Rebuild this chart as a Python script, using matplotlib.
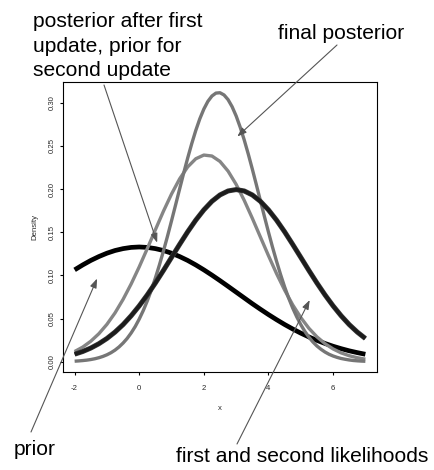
import matplotlib
matplotlib.use("Agg")
import matplotlib.pyplot as plt
import numpy as np

plt.rcParams["font.family"] = ["Liberation Sans", "DejaVu Sans"]

x_vals = np.arange(-2, 7.01, 0.25)
prior = [0.1065, 0.1122, 0.1174, 0.1219, 0.1258, 0.1289, 0.1311, 0.1325, 0.1330,
         0.1325, 0.1311, 0.1289, 0.1258, 0.1219, 0.1174, 0.1122, 0.1065, 0.1004,
         0.0940, 0.0874, 0.0807, 0.0740, 0.0673, 0.0609, 0.0547, 0.0488, 0.0432,
         0.0380, 0.0332, 0.0288, 0.0248, 0.0212, 0.0180, 0.0152, 0.0127, 0.0106,
         0.0087]
likelihood_1 = [0.0088, 0.0119, 0.0159, 0.0209, 0.0270, 0.0344, 0.0431, 0.0533, 0.0648,
                0.0775, 0.0913, 0.1059, 0.1210, 0.1360, 0.1506, 0.1641, 0.1760, 0.1859,
                0.1933, 0.1979, 0.1995, 0.1979, 0.1933, 0.1859, 0.1760, 0.1641, 0.1506,
                0.1360, 0.1210, 0.1059, 0.0913, 0.0775, 0.0648, 0.0533, 0.0431, 0.0344,
                0.0270]
likelihood_2 = [0.0088, 0.0119, 0.0159, 0.0209, 0.0270, 0.0344, 0.0431, 0.0533, 0.0648,
                0.0775, 0.0913, 0.1059, 0.1210, 0.1360, 0.1506, 0.1641, 0.1760, 0.1859,
                0.1933, 0.1979, 0.1995, 0.1979, 0.1933, 0.1859, 0.1760, 0.1641, 0.1506,
                0.1360, 0.1210, 0.1059, 0.0913, 0.0775, 0.0648, 0.0533, 0.0431, 0.0344,
                0.0270]
posterior_1 = [0.0119, 0.0170, 0.0238, 0.0325, 0.0434, 0.0566, 0.0723, 0.0902, 0.1100,
               0.1312, 0.1530, 0.1745, 0.1944, 0.2119, 0.2258, 0.2352, 0.2395, 0.2384,
               0.2321, 0.2209, 0.2055, 0.1870, 0.1663, 0.1446, 0.1230, 0.1022, 0.0831,
               0.0660, 0.0513, 0.0389, 0.0289, 0.0210, 0.0149, 0.0103, 0.0070, 0.0047,
               0.0030]
# the final posterior is narrow, so it is read every 0.125
x_fine = np.arange(-2, 7.001, 0.125)
posterior_final = [0.0007, 0.0010, 0.0014, 0.0019, 0.0026, 0.0035, 0.0047, 0.0062, 0.0081,
                   0.0105, 0.0135, 0.0172, 0.0217, 0.0270, 0.0334, 0.0408, 0.0495, 0.0594,
                   0.0706, 0.0832, 0.0971, 0.1122, 0.1284, 0.1455, 0.1634, 0.1817, 0.2002,
                   0.2185, 0.2361, 0.2527, 0.2680, 0.2815, 0.2928, 0.3017, 0.3079, 0.3113,
                   0.3117, 0.3091, 0.3037, 0.2955, 0.2848, 0.2718, 0.2570, 0.2407, 0.2233,
                   0.2052, 0.1867, 0.1683, 0.1503, 0.1329, 0.1165, 0.1011, 0.0868, 0.0739,
                   0.0623, 0.0521, 0.0431, 0.0353, 0.0286, 0.0230, 0.0183, 0.0145, 0.0113,
                   0.0087, 0.0067, 0.0051, 0.0038, 0.0029, 0.0021, 0.0015, 0.0011, 0.0008,
                   0.0006]
x_ticks = [-2, 0, 2, 4, 6]
y_ticks = [0.00, 0.05, 0.10, 0.15, 0.20, 0.25, 0.30]

W, H = 434, 470
fig = plt.figure(figsize=(W / 100, H / 100), dpi=100)
ax = fig.add_axes([63 / W, (H - 372) / H, 314 / W, 290 / H])

ax.plot(x_vals, prior, color="black", lw=3.4, solid_capstyle="butt")
ax.plot(x_vals, posterior_1, color="#858585", lw=2.4, solid_capstyle="butt")
ax.plot(x_fine, posterior_final, color="#767676", lw=2.4, solid_capstyle="butt")
ax.plot(x_vals, likelihood_1, color="#3a3a3a", lw=3.6, solid_capstyle="butt")
ax.plot(x_vals, likelihood_2, color="#1c1c1c", lw=2.6, solid_capstyle="butt")

ax.margins(x=0.04, y=0.04)
ax.set_xticks(x_ticks)
ax.set_xticklabels([str(t) for t in x_ticks])
ax.set_yticks(y_ticks)
ax.set_yticklabels(["%.2f" % t for t in y_ticks], rotation=90, va="center")
ax.tick_params(axis="both", direction="out", length=2.4, width=0.8,
               labelsize=5.6, labelcolor="#2a2a2a")
ax.tick_params(axis="x", pad=7)
ax.tick_params(axis="y", pad=3)
for sp in ax.spines.values():
    sp.set_linewidth(0.8)

ax.set_xlabel("x", fontsize=5.6, color="#2a2a2a", va="center")
ax.xaxis.set_label_coords(0.5, (372 - 408) / 290)
ax.set_ylabel("Density", fontsize=5.6, color="#2a2a2a", va="center")
ax.yaxis.set_label_coords((35 - 63) / 314, 0.5)

# annotations: tails in figure pixels, heads on the curves
arrow = dict(arrowstyle="-|>,head_length=0.55,head_width=0.2", color="#555555",
             lw=0.8, mutation_scale=10, shrinkA=0, shrinkB=0)
notes = [((0.555, 0.138), (104, H - 85)),
         ((3.036, 0.261), (337, H - 45)),
         ((-1.305, 0.0964), (31, H - 432)),
         ((5.277, 0.0715), (237, H - 444))]
for head, tail in notes:
    ax.annotate("", xy=head, xycoords="data", xytext=tail,
                textcoords="figure pixels", arrowprops=arrow, annotation_clip=False)

fs = 15.1
fig.text(33 / W, 1 - 26.7 / H, "posterior after first", fontsize=fs, va="baseline")
fig.text(33 / W, 1 - 51.5 / H, "update, prior for", fontsize=fs, va="baseline")
fig.text(33 / W, 1 - 76 / H, "second update", fontsize=fs, va="baseline")
fig.text(278 / W, 1 - 39.3 / H, "final posterior", fontsize=fs, va="baseline")
fig.text(13.3 / W, 1 - 455 / H, "prior", fontsize=fs, va="baseline")
fig.text(176 / W, 1 - 462.5 / H, "first and second likelihoods", fontsize=fs, va="baseline")

fig.savefig("out.png", dpi=100)
